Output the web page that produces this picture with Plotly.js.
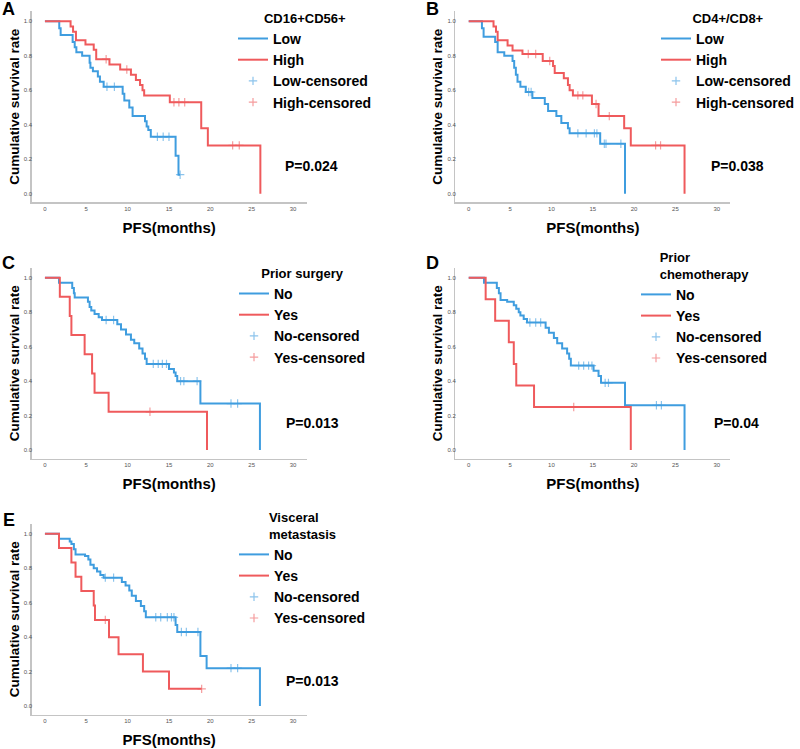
<!DOCTYPE html>
<html><head><meta charset="utf-8">
<script src="https://cdn.plot.ly/plotly-3.0.1.min.js"></script>
<style>html,body{margin:0;padding:0;background:#fff}#chart{width:800px;height:749px}</style>
</head><body><div id="chart"></div>
<script>
// ---------- Panel A: CD16+CD56+ ----------
const aTitle = 'CD16+CD56+';
const aGroups = ['Low', 'High'];
const aLowT  = [1.73, 1.9, 3.35, 3.6, 3.8, 4.5, 5.4, 5.5, 5.8, 6.4, 6.65, 7.1, 9.4, 9.6, 10.2, 10.6, 12.1, 12.3, 12.5, 12.8, 15.8, 16.15];
const aLowS  = [0.96, 0.92, 0.88, 0.85, 0.82, 0.80, 0.76, 0.73, 0.71, 0.68, 0.65, 0.62, 0.58, 0.54, 0.50, 0.45, 0.42, 0.39, 0.37, 0.33, 0.22, 0.11];
const aLowC  = [7.5, 8.4, 13.6, 14.3, 15.0, 16.35];
const aHighT = [3.1, 3.4, 3.75, 4.9, 5.9, 6.2, 7.8, 9.1, 10.4, 11.0, 11.5, 11.8, 12.0, 15.1, 18.9, 19.7, 26.05];
const aHighS = [0.97, 0.94, 0.89, 0.865, 0.835, 0.78, 0.75, 0.72, 0.69, 0.66, 0.63, 0.60, 0.57, 0.53, 0.38, 0.28, 0.0];
const aHighC = [7.4, 9.9, 15.6, 16.2, 16.9, 22.7, 23.5];
const aP = 'P=0.024';

// ---------- Panel B: CD4+/CD8+ ----------
const bTitle = 'CD4+/CD8+';
const bGroups = ['Low', 'High'];
const bLowT  = [1.6, 1.8, 3.2, 3.5, 4.3, 5.3, 5.5, 5.7, 5.9, 6.25, 6.9, 7.7, 9.2, 9.6, 10.6, 11.2, 12.0, 12.2, 15.9, 18.9];
const bLowS  = [0.96, 0.91, 0.88, 0.82, 0.80, 0.77, 0.73, 0.69, 0.65, 0.62, 0.59, 0.555, 0.52, 0.48, 0.45, 0.41, 0.38, 0.35, 0.29, 0.0];
const bLowC  = [7.25, 7.55, 13.2, 14.2, 15.2, 15.5, 16.4, 16.6, 18.4];
const bHighT = [3.0, 3.3, 3.5, 4.7, 5.3, 6.5, 8.95, 10.2, 10.4, 11.5, 12.0, 12.2, 12.6, 14.9, 15.7, 18.8, 19.6, 26.1];
const bHighS = [0.97, 0.94, 0.89, 0.86, 0.83, 0.81, 0.77, 0.74, 0.70, 0.67, 0.63, 0.60, 0.57, 0.52, 0.45, 0.38, 0.28, 0.0];
const bHighC = [7.2, 8.1, 9.8, 13.2, 13.8, 15.4, 17.0, 22.6, 23.2];
const bP = 'P=0.038';

// ---------- Panel C: Prior surgery ----------
const cTitle = 'Prior surgery';
const cGroups = ['No', 'Yes'];
const cNoT  = [1.7, 3.3, 3.5, 3.6, 5.2, 5.4, 5.6, 6.0, 6.5, 6.9, 8.75, 9.2, 9.8, 10.4, 10.8, 11.4, 11.8, 12.1, 12.3, 15.0, 15.6, 15.8, 16.0, 18.8, 26.0];
const cNoS  = [0.97, 0.94, 0.91, 0.885, 0.86, 0.83, 0.81, 0.79, 0.77, 0.755, 0.73, 0.70, 0.67, 0.64, 0.62, 0.59, 0.56, 0.53, 0.50, 0.47, 0.45, 0.43, 0.40, 0.27, 0.0];
const cNoC  = [7.4, 8.3, 13.1, 13.7, 14.2, 14.7, 16.4, 16.8, 18.4, 22.5, 23.3];
const cYesT = [1.8, 3.0, 3.2, 4.8, 5.7, 6.0, 7.7, 19.6];
const cYesS = [0.889, 0.778, 0.667, 0.556, 0.444, 0.333, 0.222, 0.0];
const cYesC = [12.7];
const cP = 'P=0.013';

// ---------- Panel D: Prior chemotherapy ----------
const dTitle = 'Prior<br>chemotherapy';
const dGroups = ['No', 'Yes'];
const dNoT  = [1.85, 3.4, 3.65, 3.85, 4.65, 5.45, 5.75, 6.05, 6.25, 6.65, 7.05, 9.3, 9.7, 10.3, 10.7, 11.3, 11.9, 12.15, 12.35, 15.1, 15.7, 16.0, 18.9, 26.1];
const dNoS  = [0.97, 0.94, 0.91, 0.87, 0.86, 0.84, 0.82, 0.80, 0.78, 0.76, 0.74, 0.71, 0.68, 0.65, 0.62, 0.59, 0.56, 0.53, 0.49, 0.46, 0.43, 0.39, 0.26, 0.0];
const dNoC  = [7.4, 8.1, 8.7, 13.3, 13.9, 14.5, 14.9, 16.5, 16.9, 22.7, 23.3];
const dYesT = [2.05, 3.2, 4.85, 5.45, 5.75, 7.9, 19.6];
const dYesS = [0.875, 0.75, 0.625, 0.50, 0.375, 0.25, 0.0];
const dYesC = [12.7];
const dP = 'P=0.04';

// ---------- Panel E: Visceral metastasis ----------
const eTitle = 'Visceral<br>metastasis';
const eGroups = ['No', 'Yes'];
const eNoT  = [1.7, 3.0, 3.2, 3.5, 3.7, 4.85, 5.25, 5.5, 5.9, 6.3, 6.7, 7.1, 9.3, 9.75, 10.2, 10.5, 11.0, 11.6, 12.0, 12.2, 15.8, 16.0, 18.8, 19.55, 26.0];
const eNoS  = [0.97, 0.955, 0.94, 0.91, 0.88, 0.87, 0.85, 0.82, 0.80, 0.78, 0.76, 0.745, 0.72, 0.70, 0.67, 0.64, 0.61, 0.58, 0.55, 0.515, 0.47, 0.43, 0.29, 0.22, 0.0];
const eNoC  = [7.3, 8.3, 13.4, 14.0, 14.8, 15.3, 15.6, 16.5, 17.1, 18.5, 22.5, 23.3];
const eYesT = [1.7, 3.2, 3.7, 4.4, 5.9, 6.05, 7.75, 8.9, 11.85, 15.0];
const eYesS = [0.917, 0.833, 0.75, 0.667, 0.583, 0.50, 0.40, 0.30, 0.20, 0.10];
const eYesC = [7.3, 18.95];
const eP = 'P=0.013';

const xTicks = [0, 5, 10, 15, 20, 25, 30];
const yTicks = [0, 0.2, 0.4, 0.6, 0.8, 1.0];
const xTitle = 'PFS(months)';
const yTitle = 'Cumulative survival rate';
const panelLetters = ['A', 'B', 'C', 'D', 'E'];

const BLUE = '#3f9ddf';
const RED = '#ef5a5c';
const BLUE_C = 'rgba(63,157,223,0.6)';
const RED_C = 'rgba(239,90,92,0.6)';

function stepXY(t, s, c) {
  const xs = [0].concat(t);
  const ys = [1].concat(s);
  const lastC = c.length ? Math.max.apply(null, c) : 0;
  if (lastC > t[t.length - 1] && s[s.length - 1] > 0) { xs.push(lastC); ys.push(s[s.length - 1]); }
  return {x: xs, y: ys};
}
function survAt(t, s, time) {
  let v = 1;
  for (let i = 0; i < t.length; i++) if (t[i] <= time) v = s[i];
  return v;
}

const panels = [
  {g: aGroups, t1: aLowT, s1: aLowS, c1: aLowC, t2: aHighT, s2: aHighS, c2: aHighC},
  {g: bGroups, t1: bLowT, s1: bLowS, c1: bLowC, t2: bHighT, s2: bHighS, c2: bHighC},
  {g: cGroups, t1: cNoT, s1: cNoS, c1: cNoC, t2: cYesT, s2: cYesS, c2: cYesC},
  {g: dGroups, t1: dNoT, s1: dNoS, c1: dNoC, t2: dYesT, s2: dYesS, c2: dYesC},
  {g: eGroups, t1: eNoT, s1: eNoS, c1: eNoC, t2: eYesT, s2: eYesS, c2: eYesC}
];
const legendTitles = [aTitle, bTitle, cTitle, dTitle, eTitle];
const pTexts = [aP, bP, cP, dP, eP];

const W = 800, H = 749;
// geometry in pixels
const xDom = [[31.75, 307.05], [456.05, 731.35], [31.75, 307.05], [456.05, 731.35], [31.75, 307.05]];
const yDom = [[202.3, 11.3], [202.3, 11.3], [458.7, 267.7], [458.7, 267.7], [714.7, 523.7]];
const legPos = [[233, 6], [657, 6], [234, 261], [636, 245], [234, 505]];
const pPos = [[312, 166], [738, 166], [313, 423], [737, 423], [313, 681]];
const letterPos = [[9, 9], [433, 9], [9, 263], [433, 263], [9, 520]];

const data = [];
const layout = {
  width: W, height: H,
  margin: {l: 0, r: 0, t: 0, b: 0},
  paper_bgcolor: '#fff', plot_bgcolor: '#fff',
  font: {family: 'Liberation Sans, Arial, sans-serif', color: '#000'},
  showlegend: true,
  annotations: []
};

panels.forEach((p, i) => {
  const n = i + 1;
  const xa = n === 1 ? 'x' : 'x' + n;
  const ya = n === 1 ? 'y' : 'y' + n;
  const lg = n === 1 ? 'legend' : 'legend' + n;
  const l1 = stepXY(p.t1, p.s1, p.c1);
  const l2 = stepXY(p.t2, p.s2, p.c2);
  data.push({x: l1.x, y: l1.y, type: 'scatter', mode: 'lines', line: {shape: 'hv', color: BLUE, width: 2},
    name: p.g[0], xaxis: xa, yaxis: ya, legend: lg, hoverinfo: 'skip'});
  data.push({x: l2.x, y: l2.y, type: 'scatter', mode: 'lines', line: {shape: 'hv', color: RED, width: 2},
    name: p.g[1], xaxis: xa, yaxis: ya, legend: lg, hoverinfo: 'skip'});
  data.push({x: p.c1, y: p.c1.map(c => survAt(p.t1, p.s1, c)), type: 'scatter', mode: 'markers',
    marker: {symbol: 'cross-thin', size: 6, line: {color: BLUE_C, width: 1.2}, color: BLUE_C},
    name: p.g[0] + '-censored', xaxis: xa, yaxis: ya, legend: lg, hoverinfo: 'skip'});
  data.push({x: p.c2, y: p.c2.map(c => survAt(p.t2, p.s2, c)), type: 'scatter', mode: 'markers',
    marker: {symbol: 'cross-thin', size: 6, line: {color: RED_C, width: 1.2}, color: RED_C},
    name: p.g[1] + '-censored', xaxis: xa, yaxis: ya, legend: lg, hoverinfo: 'skip'});

  const axName = n === 1 ? 'xaxis' : 'xaxis' + n;
  const ayName = n === 1 ? 'yaxis' : 'yaxis' + n;
  layout[axName] = {
    domain: [xDom[i][0] / W, xDom[i][1] / W], anchor: ya,
    range: [-1.6, 31.65], tickvals: xTicks, ticktext: xTicks.map(String),
    showgrid: false, zeroline: false, showline: true, linecolor: '#c4c4c4', linewidth: 1.5,
    ticks: '', tickfont: {size: 6, color: '#555'},
    title: {text: xTitle, font: {size: 15, weight: 'bold', color: '#000'}, standoff: 11}
  };
  layout[ayName] = {
    domain: [1 - yDom[i][0] / H, 1 - yDom[i][1] / H], anchor: xa,
    range: [-0.05, 1.058], tickvals: yTicks, ticktext: yTicks.map(v => v.toFixed(1)),
    showgrid: false, zeroline: false, showline: true, linecolor: '#c4c4c4', linewidth: 1.5,
    ticks: '', ticklabelstandoff: -3, tickfont: {size: 6, color: '#555'},
    title: {text: yTitle, font: {size: 13.5, weight: 'bold', color: '#000'}, standoff: 1}
  };
  layout[lg] = {
    x: legPos[i][0] / W, y: 1 - legPos[i][1] / H, xanchor: 'left', yanchor: 'top',
    bgcolor: 'rgba(0,0,0,0)', borderwidth: 0, tracegroupgap: 0,
    title: {text: legendTitles[i], side: 'top center', font: {size: 13, weight: 'bold', color: '#000'}},
    font: {size: 14, weight: 'bold', color: '#000'}
  };
  layout.annotations.push({xref: 'paper', yref: 'paper', x: pPos[i][0] / W, y: 1 - pPos[i][1] / H,
    xanchor: 'center', yanchor: 'middle', showarrow: false, text: pTexts[i],
    font: {size: 14, weight: 'bold', color: '#000'}});
  layout.annotations.push({xref: 'paper', yref: 'paper', x: letterPos[i][0] / W, y: 1 - letterPos[i][1] / H,
    xanchor: 'center', yanchor: 'middle', showarrow: false, text: panelLetters[i],
    font: {size: 18, weight: 'bold', color: '#000'}});
});

Plotly.newPlot('chart', data, layout, {staticPlot: true, displayModeBar: false});
</script>
</body></html>
